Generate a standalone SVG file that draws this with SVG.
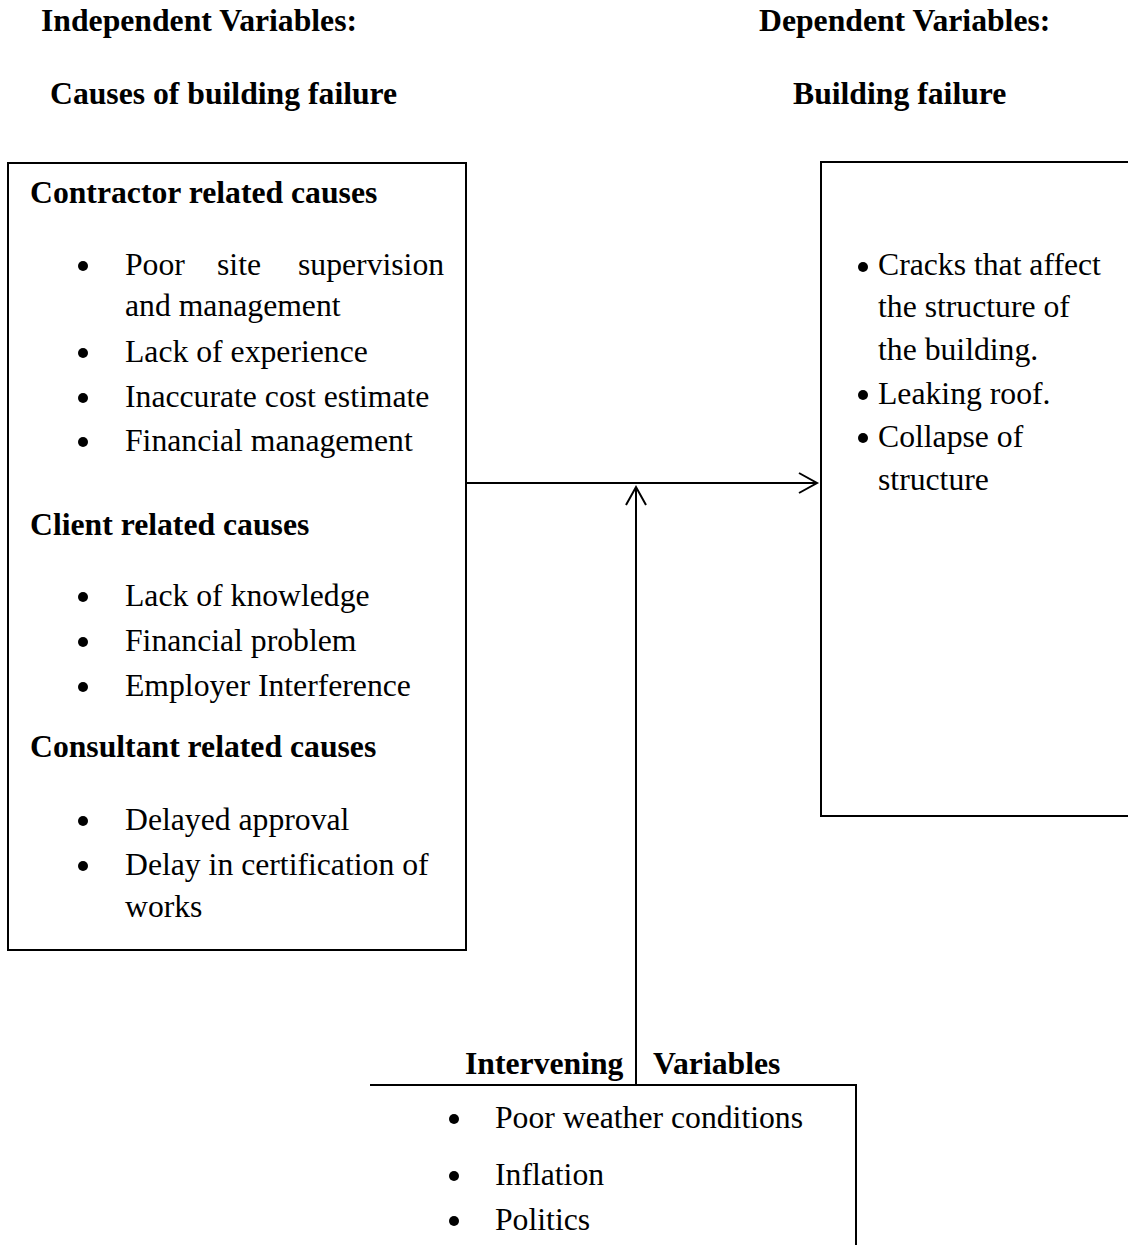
<svg xmlns="http://www.w3.org/2000/svg" width="1128" height="1245" viewBox="0 0 1128 1245">
<defs>
<style>
text{font-family:"Liberation Serif","Times New Roman",serif;font-size:31.7px;fill:#000}
.b{font-weight:bold}
.box{fill:none;stroke:#000;stroke-width:2}
.con{fill:none;stroke:#000;stroke-width:2}
.dot{fill:#000}
</style>
<marker id="arr" markerUnits="userSpaceOnUse" markerWidth="24" markerHeight="24" viewBox="-20 -12 24 24" refX="0" refY="0" orient="auto">
<path d="M-18,-10 L0,0 L-18,10" fill="none" stroke="#000" stroke-width="2"/>
</marker>
</defs>
<rect width="1128" height="1245" fill="#fff"/>

<g id="headers">
<text class="b" x="41" y="31">Independent Variables:</text>
<text class="b" x="50" y="104">Causes of building failure</text>
<text class="b" x="759" y="31">Dependent Variables:</text>
<text class="b" x="793" y="104">Building failure</text>
</g>

<g id="independent">
<rect class="box" x="8" y="163" width="458" height="787"/>
<text class="b" x="30" y="203">Contractor related causes</text>
<circle class="dot" cx="83" cy="266" r="5"/>
<text y="275"><tspan x="125">Poor</tspan><tspan x="217">site</tspan><tspan x="298">supervision</tspan></text>
<text x="125" y="316">and management</text>
<circle class="dot" cx="83" cy="353" r="5"/>
<text x="125" y="361.5">Lack of experience</text>
<circle class="dot" cx="83" cy="398" r="5"/>
<text x="125" y="406.5">Inaccurate cost estimate</text>
<circle class="dot" cx="83" cy="442" r="5"/>
<text x="125" y="450.5">Financial management</text>
<text class="b" x="30" y="535">Client related causes</text>
<circle class="dot" cx="83" cy="597" r="5"/>
<text x="125" y="605.5">Lack of knowledge</text>
<circle class="dot" cx="83" cy="642" r="5"/>
<text x="125" y="650.5">Financial problem</text>
<circle class="dot" cx="83" cy="687" r="5"/>
<text x="125" y="695.5">Employer Interference</text>
<text class="b" x="30" y="757">Consultant related causes</text>
<circle class="dot" cx="83" cy="821" r="5"/>
<text x="125" y="829.5">Delayed approval</text>
<circle class="dot" cx="83" cy="866" r="5"/>
<text x="125" y="874.5">Delay in certification of</text>
<text x="125" y="917">works</text>
</g>

<g id="dependent">
<path class="box" d="M1128,162 H821 V816 H1128"/>
<circle class="dot" cx="863" cy="267" r="5"/>
<text x="878" y="275">Cracks that affect</text>
<text x="878" y="316.5">the structure of</text>
<text x="878" y="360">the building.</text>
<circle class="dot" cx="863" cy="395" r="5"/>
<text x="878" y="403.5">Leaking roof.</text>
<circle class="dot" cx="863" cy="438" r="5"/>
<text x="878" y="447">Collapse of</text>
<text x="878" y="490">structure</text>
</g>

<g id="intervening">
<text class="b" x="465" y="1074">Intervening</text>
<text class="b" x="653" y="1074">Variables</text>
<path class="box" d="M370,1085 H856 V1245"/>
<circle class="dot" cx="454" cy="1119" r="5"/>
<text x="495" y="1128">Poor weather conditions</text>
<circle class="dot" cx="454" cy="1176" r="5"/>
<text x="495" y="1185">Inflation</text>
<circle class="dot" cx="454" cy="1221" r="5"/>
<text x="495" y="1230">Politics</text>
</g>

<g id="connectors">
<line class="con" x1="466" y1="483" x2="817" y2="483" marker-end="url(#arr)"/>
<line class="con" x1="636" y1="1085" x2="636" y2="487" marker-end="url(#arr)"/>
</g>
</svg>
